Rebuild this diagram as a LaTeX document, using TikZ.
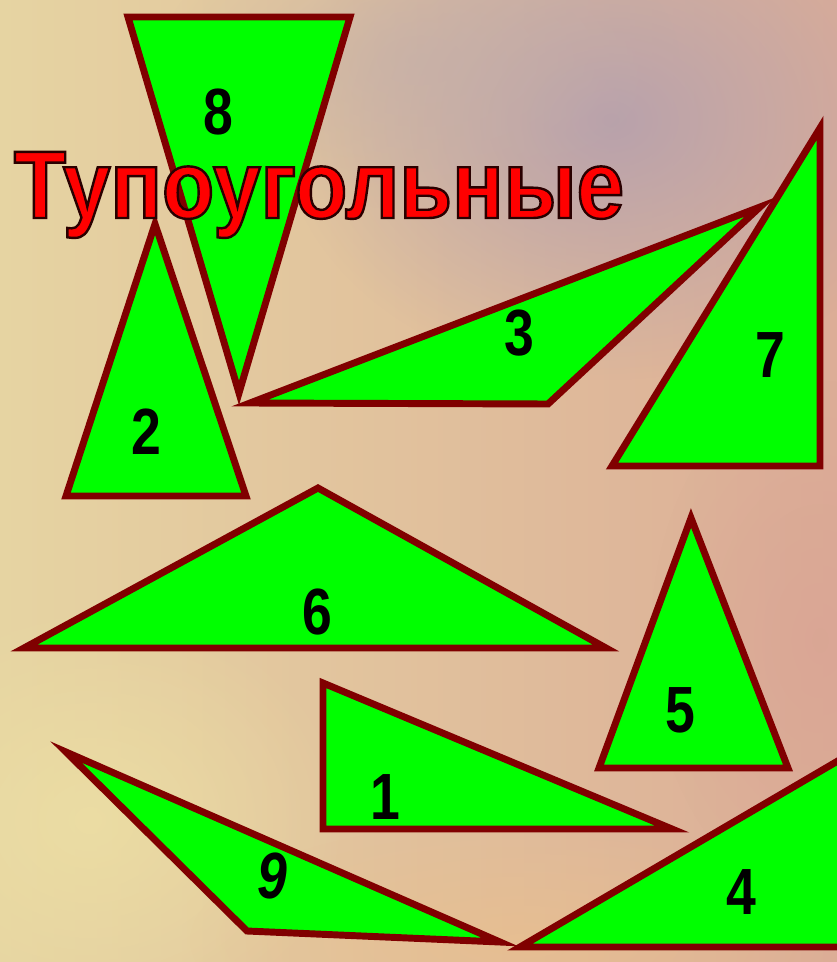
\documentclass[tikz,border=0pt]{standalone}
\usepackage{fontspec}
\setmainfont{Liberation Sans}
\newfontfamily\numfont[FakeStretch=0.82]{Liberation Sans}
\newfontfamily\titlefont[FakeStretch=0.89]{Liberation Sans}
\usepackage{xcolor}
\definecolor{leaf}{HTML}{00FF00}
\definecolor{maroon}{HTML}{800000}
\definecolor{sand}{HTML}{E6D4A2}
\definecolor{heather}{HTML}{B49FAE}
\definecolor{blush}{HTML}{D9A394}
\definecolor{straw}{HTML}{EDE0A4}
\definecolor{apricot}{HTML}{E9BF8E}
\definecolor{titlered}{HTML}{FF0000}
\usetikzlibrary{fadings}
\tikzfading[name=soft, inner color=transparent!0, outer color=transparent!100]
\tikzset{
  tri/.style={draw=maroon, fill=leaf, line width=5.2pt, line join=miter, miter limit=20},
  num/.style={font=\numfont\bfseries\fontsize{49}{49}\selectfont, text=black, inner sep=0pt},
  title/.style={font=\titlefont\bfseries\fontsize{72}{72}\selectfont, text=titlered, inner sep=0pt},
  haze/.style={path fading=soft},
}
% red letters with a dark edge
\newcommand{\edged}[1]{\special{pdf:literal direct 2 Tr 1.8 w 0.16 0 0 RG}#1\special{pdf:literal direct 0 Tr 1 w}}

\begin{document}
\begin{tikzpicture}[x=0.75pt, y=-0.75pt]
  \useasboundingbox (0,0) rectangle (837,962);
  % wall
  \shade[left color=sand, right color=blush!80!sand] (0,0) rectangle (837,962);
  \fill[heather, opacity=0.9, haze] (610,120) ellipse (330 and 260);
  \fill[heather!70!sand, opacity=0.6, haze] (420,60) ellipse (260 and 150);
  \fill[straw, opacity=0.8, haze] (90,820) ellipse (260 and 220);
  \fill[apricot, opacity=0.7, haze] (520,940) ellipse (330 and 120);
  \fill[blush, opacity=0.7, haze] (820,640) ellipse (170 and 260);
  % triangles
  \draw[tri] (128,17) -- (350,17) -- (239,393) -- cycle;
  \draw[tri] (155,224) -- (246,496) -- (66,496) -- cycle;
  \draw[tri] (250,403) -- (760,207) -- (548,404) -- cycle;
  \draw[tri] (820,128) -- (820,466) -- (612,466) -- cycle;
  \draw[tri] (318,488) -- (606,648) -- (24,648) -- cycle;
  \draw[tri] (691,518) -- (788,768) -- (599,768) -- cycle;
  \draw[tri] (323,683) -- (672,829) -- (323,829) -- cycle;
  \draw[tri] (66,752) -- (500,942) -- (247,931) -- cycle;
  \draw[tri] (848,755) -- (848,947) -- (520,947) -- cycle;
  % numbers
  \node[num] (n8) at (218,112) {8};
  \node[num] (n2) at (146,432) {2};
  \node[num] (n3) at (519,333) {3};
  \node[num] (n7) at (770,355) {7};
  \node[num] (n6) at (317,612) {6};
  \node[num] (n5) at (680,710) {5};
  \node[num] (n1) at (385,797) {1};
  \node[num] (n9) at (272,876) {\itshape 9};
  \node[num] (n4) at (741,892) {4};
  % heading
  \node[title, anchor=base] (head) at (319,218) {\edged{Тупоугольные}};
\end{tikzpicture}
\end{document}
